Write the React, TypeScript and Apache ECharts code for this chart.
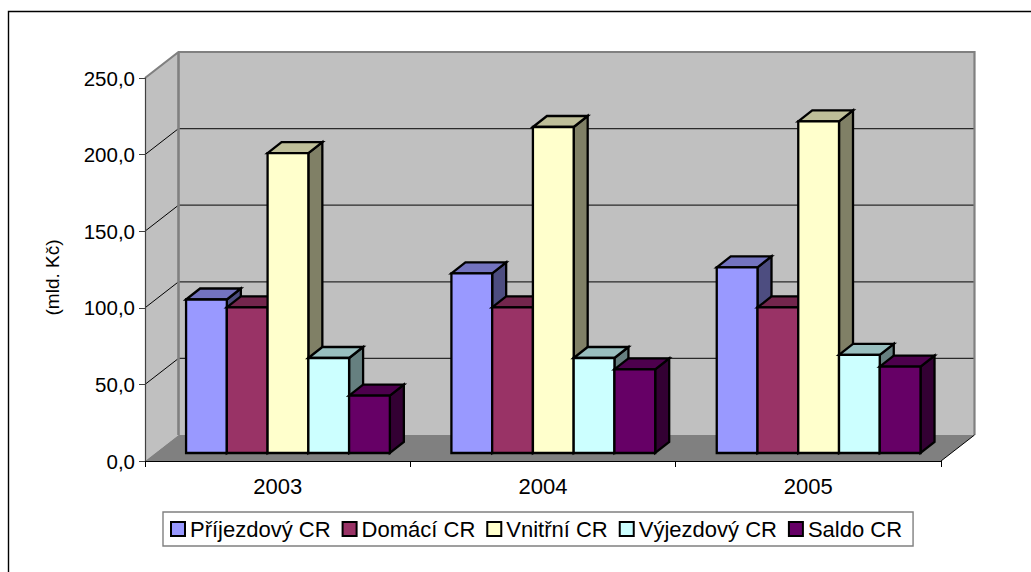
import React, { useEffect, useRef } from "react";
import * as echarts from "echarts";

const years = ["2003", "2004", "2005"];
const names = ["Příjezdový CR", "Domácí CR", "Vnitřní CR", "Výjezdový CR", "Saldo CR"];
const prijezdovy = [100.2, 117.3, 121.2];
const domaci = [95, 95, 95];
const vnitrni = [195.8, 212.8, 216.5];
const vyjezdovy = [62, 62, 64];
const saldo = [37.4, 54.6, 56.4];
const seriesValues = [prijezdovy, domaci, vnitrni, vyjezdovy, saldo];
const frontColors = ["#9999FF", "#993366", "#FFFFCC", "#CCFFFF", "#660066"];
const topColors = ["#7373BF", "#73264D", "#BFBF99", "#99BFBF", "#4D004D"];
const sideColors = ["#4D4D80", "#4D1A33", "#808066", "#668080", "#330033"];
const yTicks = [0, 50, 100, 150, 200, 250];

const FONT = '"Liberation Sans", Arial, sans-serif';
const WALL_DX = 33.5;
const WALL_DY = -26;
const BAR_DX = 14;
const BAR_DY = -11;
const FRONT_DX = 10.3;
const FRONT_DY = -8;
const BAR_RATIO = 0.1536;

const renderWalls = (params: any, api: any) => {
  const cs = params.coordSys;
  const l = cs.x;
  const r = cs.x + cs.width;
  const b = cs.y + cs.height;
  const t = cs.y;
  const children: any[] = [
    { type: "polygon", shape: { points: [[l, b], [l + WALL_DX, b + WALL_DY], [l + WALL_DX, t + WALL_DY], [l, t]] }, style: { fill: "#C0C0C0", stroke: "none" } },
    { type: "polygon", shape: { points: [[l + WALL_DX, b + WALL_DY], [r + WALL_DX, b + WALL_DY], [r + WALL_DX, t + WALL_DY], [l + WALL_DX, t + WALL_DY]] }, style: { fill: "#C0C0C0", stroke: "none" } },
  ];
  yTicks.forEach((v) => {
    const y = api.coord([0, v])[1];
    if (v > 0 && v < 250) {
      children.push({ type: "line", shape: { x1: l + WALL_DX, y1: y + WALL_DY, x2: r + WALL_DX, y2: y + WALL_DY }, style: { stroke: "#2A2A2A", lineWidth: 1.2 } });
      children.push({ type: "line", shape: { x1: l, y1: y, x2: l + WALL_DX, y2: y + WALL_DY }, style: { stroke: "#000", lineWidth: 1 } });
    }
  });
  children.push(
    { type: "polyline", shape: { points: [[l, t], [l + WALL_DX, t + WALL_DY], [r + WALL_DX, t + WALL_DY], [r + WALL_DX, b + WALL_DY]] }, style: { fill: "none", stroke: "#808080", lineWidth: 2.2 } },
    { type: "line", shape: { x1: l + WALL_DX, y1: t + WALL_DY, x2: l + WALL_DX, y2: b + WALL_DY }, style: { stroke: "#808080", lineWidth: 2.6 } },
    { type: "polygon", shape: { points: [[l, b], [r, b], [r + WALL_DX, b + WALL_DY], [l + WALL_DX, b + WALL_DY]] }, style: { fill: "#808080", stroke: "none" } },
    { type: "line", shape: { x1: r, y1: b, x2: r + WALL_DX, y2: b + WALL_DY }, style: { stroke: "#000", lineWidth: 1 } },
  );
  return { type: "group", children };
};

const makeBar = (idx: number) => (params: any, api: any) => {
  const band = api.size([1, 0])[0];
  const w = band * BAR_RATIO;
  const cat = api.value(0);
  const top = api.coord([cat, api.value(1)]);
  const base = api.coord([cat, 0]);
  const x0 = top[0] + FRONT_DX + (idx - 2.5) * w;
  const x1 = x0 + w;
  const y0 = top[1] + FRONT_DY;
  const y1 = base[1] + FRONT_DY;
  const stroke = { stroke: "#000", lineWidth: 2.3, lineJoin: "miter" };
  return {
    type: "group",
    children: [
      { type: "polygon", shape: { points: [[x1, y0], [x1 + BAR_DX, y0 + BAR_DY], [x1 + BAR_DX, y1 + BAR_DY], [x1, y1]] }, style: { fill: sideColors[idx], ...stroke } },
      { type: "polygon", shape: { points: [[x0, y0], [x0 + BAR_DX, y0 + BAR_DY], [x1 + BAR_DX, y0 + BAR_DY], [x1, y0]] }, style: { fill: topColors[idx], ...stroke } },
      { type: "rect", shape: { x: x0, y: y0, width: w, height: y1 - y0 }, style: { fill: frontColors[idx], ...stroke } },
    ],
  };
};

export default function App() {
  const ref = useRef<HTMLDivElement>(null);
  useEffect(() => {
    document.body.style.margin = "0";
    const chart = echarts.init(ref.current!, null, { renderer: "svg" });
    chart.setOption({
      animation: false,
      backgroundColor: "#fff",
      textStyle: { fontFamily: FONT },
      grid: { left: 145, right: 1031 - 941, top: 78, bottom: 572 - 461, containLabel: false },
      graphic: [
        { type: "polyline", silent: true, shape: { points: [[8.5, 572], [8.5, 11.5], [1031, 11.5]] }, style: { fill: "none", stroke: "#000", lineWidth: 1.4 } },
      ],
      legend: {
        left: 163,
        top: 512,
        data: names,
        orient: "horizontal",
        padding: [6, 11, 6, 7],
        itemWidth: 14,
        itemHeight: 14,
        itemGap: 11,
        backgroundColor: "#fff",
        borderColor: "#808080",
        borderWidth: 1.4,
        borderRadius: 0,
        icon: "rect",
        selectedMode: false,
        textStyle: { fontFamily: FONT, fontSize: 22, color: "#000" },
      },
      xAxis: {
        type: "category",
        data: years,
        z: 6,
        axisLine: { show: true, lineStyle: { color: "#000", width: 1 } },
        axisTick: { show: true, alignWithLabel: false, length: 6, lineStyle: { color: "#000", width: 1 } },
        axisLabel: { fontFamily: FONT, fontSize: 22, color: "#000", margin: 14 },
        splitLine: { show: false },
      },
      yAxis: {
        type: "value",
        min: 0,
        max: 250,
        interval: 50,
        z: 6,
        name: "(mld. Kč)",
        nameLocation: "middle",
        nameRotate: 90,
        nameGap: 83,
        nameTextStyle: { fontFamily: FONT, fontSize: 19, color: "#000", padding: [0, 16, 0, 0] },
        axisLine: { show: true, lineStyle: { color: "#404040", width: 1.2 } },
        axisTick: { show: true, length: 6, lineStyle: { color: "#404040", width: 1 } },
        axisLabel: { fontFamily: FONT, fontSize: 20.5, color: "#000", margin: 10, formatter: (v: number) => v.toFixed(1).replace(".", ",") },
        splitLine: { show: false },
      },
      series: [
        { type: "custom", coordinateSystem: "cartesian2d", silent: true, clip: false, z: 1, renderItem: renderWalls, data: [[0, 0]], encode: { x: 0, y: 1 } },
        ...names.map((name, idx) => ({
          type: "custom",
          name,
          coordinateSystem: "cartesian2d",
          clip: false,
          z: 3 + idx * 0.01,
          itemStyle: { color: frontColors[idx], borderColor: "#000", borderWidth: 2 },
          renderItem: makeBar(idx),
          data: seriesValues[idx].map((v, i) => [i, v]),
          encode: { x: 0, y: 1 },
        })),
      ],
    });
    return () => chart.dispose();
  }, []);
  return <div ref={ref} style={{ width: 1031, height: 572 }} />;
}
